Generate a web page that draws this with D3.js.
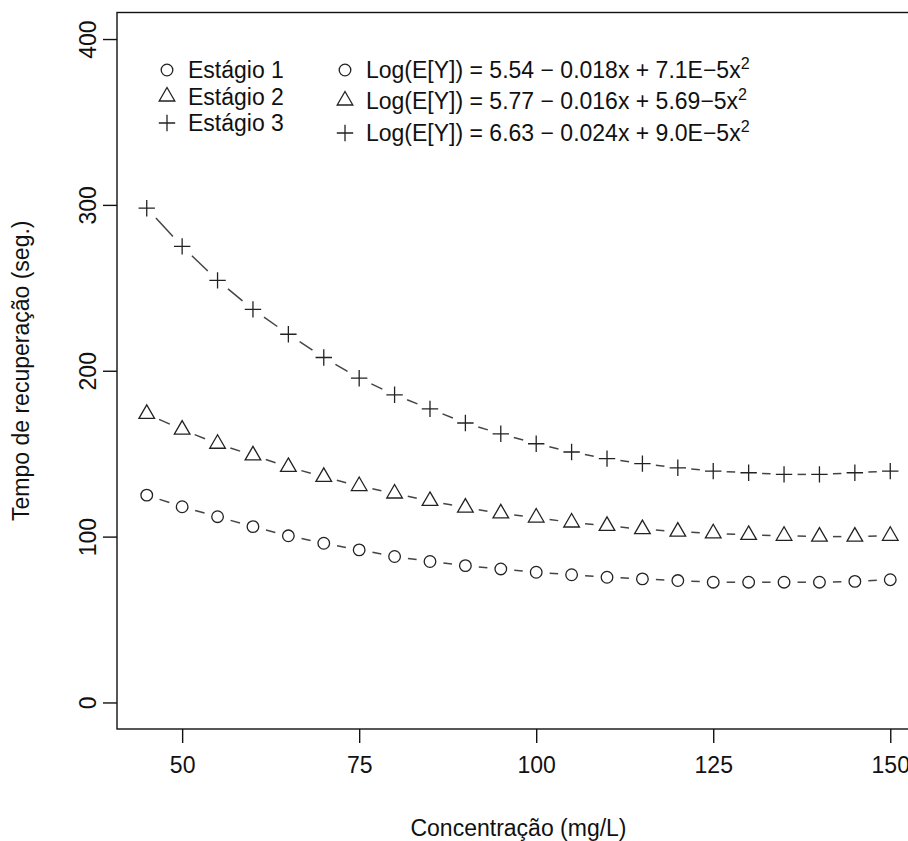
<!DOCTYPE html>
<html>
<head>
<meta charset="utf-8">
<script src="https://cdn.jsdelivr.net/npm/d3@7"></script>
<style>
  body { margin: 0; background: #fff; }
  svg { display: block; }
  text { font-family: "Liberation Sans", Arial, sans-serif; fill: #111; }
</style>
</head>
<body>
<div id="chart"></div>
<script>
// Concentration levels (mg/L)
var concentracao = [45, 50, 55, 60, 65, 70, 75, 80, 85, 90, 95, 100,
    105, 110, 115, 120, 125, 130, 135, 140, 145, 150];

// Recovery time (s) for each stage
var estagio1 = [125, 118, 112, 106, 100.5, 96, 92, 88, 85, 82.5, 80.5, 78.5,
    77, 75.5, 74.5, 73.5, 72.5, 72.5, 72.5, 72.5, 73, 74];
var estagio2 = [174, 164.5, 156, 149, 142, 136, 130.5, 126, 121.5, 117.5, 114, 111.5,
    108.5, 106.5, 104.5, 103, 102, 101, 100.5, 100, 100, 100.5];
var estagio3 = [298, 275, 254.5, 237, 222, 208, 195.5, 185.5, 177, 168.5, 162, 156,
    151, 147, 144, 141.5, 139.5, 138.5, 137.5, 137.5, 138.5, 139.5];

var xTicks = [50, 75, 100, 125, 150];
var yTicks = [0, 100, 200, 300, 400];

var stageNames = ["Estágio 1", "Estágio 2", "Estágio 3"];
var modelLabels = [
    ["Log(E[Y]) = 5.54 − 0.018x + 7.1E−5x", "2"],
    ["Log(E[Y]) = 5.77 − 0.016x + 5.69−5x", "2"],
    ["Log(E[Y]) = 6.63 − 0.024x + 9.0E−5x", "2"]
];
var shapes = ["circle", "triangle", "plus"];

var svgWidth = 908;
var svgHeight = 841;
var fontSize = 23;

var svg = d3.select("#chart").append("svg")
    .attr("width", svgWidth)
    .attr("height", svgHeight);

svg.append("rect").attr("width", svgWidth).attr("height", svgHeight).attr("fill", "#fff");

// plot region (right edge falls just outside the picture)
var plot = { left: 117, right: 920, top: 12.5, bottom: 729 };

// R style 4% padding on both axes
var xLinearScale = d3.scaleLinear()
    .domain([45 - 0.04 * 105, 150 + 0.04 * 105])
    .range([plot.left, plot.right]);
var yLinearScale = d3.scaleLinear()
    .domain([-16, 416])
    .range([plot.bottom, plot.top]);

// marker path builder
function markerPath(shape, r) {
    if (shape === "circle") {
        return d3.arc()({ innerRadius: 0, outerRadius: r, startAngle: 0, endAngle: 2 * Math.PI });
    }
    if (shape === "triangle") {
        var top = 1.555 * r, half = 1.347 * r, base = 0.778 * r;
        return "M0," + (-top) + "L" + half + "," + base + "L" + (-half) + "," + base + "Z";
    }
    var a = 1.414 * r;
    return "M" + (-a) + ",0H" + a + "M0," + (-a) + "V" + a;
}

var markerR = 5.8;
var gap = 13.5;

function drawSeries(values, shape) {
    var pts = concentracao.map((c, i) => [xLinearScale(c), yLinearScale(values[i])]);

    // dashed connecting segments with gaps around the markers (type = "b")
    var segs = [];
    for (var i = 0; i < pts.length - 1; i++) {
        var p1 = pts[i], p2 = pts[i + 1];
        var dx = p2[0] - p1[0], dy = p2[1] - p1[1];
        var d = Math.sqrt(dx * dx + dy * dy);
        if (d <= 2 * gap) continue;
        var ux = dx / d, uy = dy / d;
        segs.push([p1[0] + ux * gap, p1[1] + uy * gap, p2[0] - ux * gap, p2[1] - uy * gap]);
    }
    svg.append("g").selectAll("line")
        .data(segs)
        .enter()
        .append("line")
        .attr("x1", d => d[0]).attr("y1", d => d[1])
        .attr("x2", d => d[2]).attr("y2", d => d[3])
        .attr("stroke", "#444")
        .attr("stroke-width", 1.5);

    svg.append("g").selectAll("path")
        .data(pts)
        .enter()
        .append("path")
        .attr("transform", d => `translate(${d[0]},${d[1]})`)
        .attr("d", markerPath(shape, markerR))
        .attr("fill", "none")
        .attr("stroke", "#222")
        .attr("stroke-width", 1.3);
}

drawSeries(estagio1, "circle");
drawSeries(estagio2, "triangle");
drawSeries(estagio3, "plus");

// box
svg.append("rect")
    .attr("x", plot.left)
    .attr("y", plot.top)
    .attr("width", plot.right - plot.left)
    .attr("height", plot.bottom - plot.top)
    .attr("fill", "none")
    .attr("stroke", "#111")
    .attr("stroke-width", 1.4);

// x axis
var bottomAxis = d3.axisBottom(xLinearScale)
    .tickValues(xTicks)
    .tickSize(14)
    .tickPadding(14)
    .tickSizeOuter(0);
var xAxisG = svg.append("g")
    .attr("transform", `translate(0, ${plot.bottom})`)
    .call(bottomAxis);
xAxisG.select(".domain").remove();
xAxisG.selectAll("line").attr("stroke", "#111").attr("stroke-width", 1.4);
xAxisG.selectAll("text")
    .attr("font-size", fontSize)
    .attr("font-family", "Liberation Sans, Arial, sans-serif")
    .attr("fill", "#111");

// y axis (labels parallel to the axis)
var leftAxis = d3.axisLeft(yLinearScale)
    .tickValues(yTicks)
    .tickSize(14)
    .tickSizeOuter(0);
var yAxisG = svg.append("g")
    .attr("transform", `translate(${plot.left}, 0)`)
    .call(leftAxis);
yAxisG.select(".domain").remove();
yAxisG.selectAll("line").attr("stroke", "#111").attr("stroke-width", 1.4);
yAxisG.selectAll("text")
    .attr("x", null)
    .attr("dy", null)
    .attr("transform", "translate(-21,0) rotate(-90)")
    .attr("text-anchor", "middle")
    .attr("font-size", fontSize)
    .attr("font-family", "Liberation Sans, Arial, sans-serif")
    .attr("fill", "#111");

// axis titles
svg.append("text")
    .attr("x", (plot.left + plot.right) / 2)
    .attr("y", 836)
    .attr("text-anchor", "middle")
    .attr("font-size", fontSize)
    .text("Concentração (mg/L)");

svg.append("text")
    .attr("transform", `translate(29, ${(plot.top + plot.bottom) / 2}) rotate(-90)`)
    .attr("text-anchor", "middle")
    .attr("font-size", fontSize)
    .text("Tempo de recuperação (seg.)");

// legend 1: stages
var leg1Y = [70, 96.5, 123];
var leg1 = svg.append("g");
stageNames.forEach(function (name, i) {
    leg1.append("path")
        .attr("transform", `translate(167, ${leg1Y[i]})`)
        .attr("d", markerPath(shapes[i], markerR))
        .attr("fill", "none")
        .attr("stroke", "#222")
        .attr("stroke-width", 1.3);
    leg1.append("text")
        .attr("x", 188)
        .attr("y", leg1Y[i] + 8)
        .attr("font-size", fontSize)
        .text(name);
});

// legend 2: fitted models
var leg2Y = [70, 100.5, 133];
var leg2 = svg.append("g");
modelLabels.forEach(function (lab, i) {
    leg2.append("path")
        .attr("transform", `translate(345, ${leg2Y[i]})`)
        .attr("d", markerPath(shapes[i], markerR))
        .attr("fill", "none")
        .attr("stroke", "#222")
        .attr("stroke-width", 1.3);
    var t = leg2.append("text")
        .attr("x", 366)
        .attr("y", leg2Y[i] + 8)
        .attr("font-size", fontSize);
    t.append("tspan").text(lab[0]);
    t.append("tspan")
        .attr("dy", -9)
        .attr("font-size", fontSize * 0.7)
        .text(lab[1]);
});
</script>
</body>
</html>
